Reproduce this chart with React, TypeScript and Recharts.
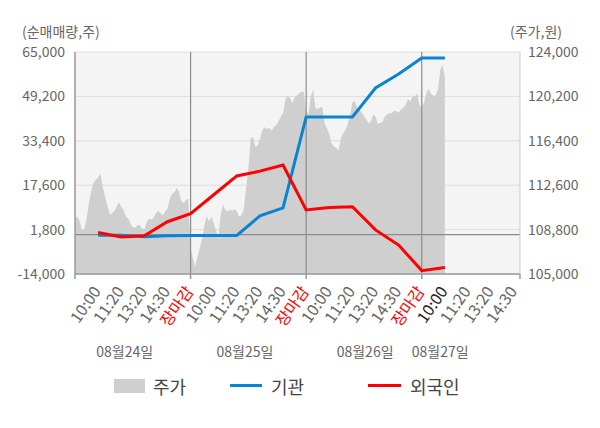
import React from 'react'
import {
	Area,
	CartesianGrid,
	ComposedChart,
	Line,
	ReferenceLine,
	XAxis,
	YAxis
} from 'recharts'

// 일자 / 시간 라벨
const days = ['08월24일', '08월25일', '08월26일', '08월27일']
const timeLabels = ['10:00', '11:20', '13:20', '14:30', '장마감']

// 주가 (원), 일자별
const priceDay1 = [
	109750, 109900, 109550, 108750, 108850, 109750, 111050, 112050, 112800, 113050,
	113250, 113600, 112450, 111650, 110850, 110100, 110200, 110400, 110750, 111150,
	110750, 110500, 109950, 109750, 109300, 109000, 108950, 109150, 109200, 108900,
	108800, 109400, 109750, 109650, 109800, 110200, 110400, 110200, 110000, 110350,
	110600, 111400, 111850, 112000, 112350, 112050, 111250, 111050, 111350, 111450
]
const priceDay2 = [
	107200, 106350, 105600, 106550, 107200, 108050, 109200, 109950, 109500, 109900,
	109350, 108750, 108050, 110050, 110950, 110500, 110350, 110550, 110400, 110550,
	110400, 109900, 110050, 110500, 112350, 114050, 116600, 116750, 115900, 116000,
	116600, 117300, 117550, 117400, 117500, 117250, 117550, 117750, 118050, 118450,
	118750, 119900, 120250, 120050, 119600, 120100, 120300, 120450, 120600, 120550
]
const priceDay3 = [
	118900, 118700, 120200, 120800, 119200, 119100, 119250, 119300, 117900, 117450,
	117000, 116200, 115900, 115800, 115550, 116600, 117050, 117300, 117850, 118600,
	119700, 119800, 119300, 119100, 118800, 118500, 118200, 117900, 118050, 118650,
	118450, 117850, 117950, 118000, 118450, 118650, 118750, 118750, 118950, 118950,
	118800, 119050, 119250, 119450, 120000, 119750, 120200, 120200, 120450, 119450
]
const priceDay4 = [119300, 119650, 120500, 120850, 120400, 120250, 120300, 120750, 122450, 122900, 121850]

// 누적 순매매량 (주), 시간 라벨마다
const institution = [-200, -250, -700, -400, -300, -300, -300, 6700, 9500, 41900, 41900, 41900, 52200, 57200, 62900, 62900]
const foreign = [800, -800, -400, 4600, 7500, 14200, 20900, 22600, 24800, 8800, 9700, 9950, 1700, -3700, -12800, -11700]

const volTicks = [-14000, 1800, 17600, 33400, 49200, 65000]
const priceTicks = [105000, 108800, 112600, 116400, 120200, 124000]

const POINTS_PER_DAY = 50
const X_MAX = 3.85
const dateTickX = [0.43, 1.47, 2.51, 3.16]

const priceData = [priceDay1, priceDay2, priceDay3, priceDay4].flatMap((arr, d) =>
	arr.map((price, i) => ({ x: d + i / POINTS_PER_DAY, price }))
)

const flowData = institution.map((inst, i) => ({
	x: (i + 1) / timeLabels.length,
	inst,
	frgn: foreign[i]
}))

const timeTicks: number[] = [0]
days.forEach((_, d) => {
	timeLabels.forEach((_, s) => {
		const v = d + (s + 1) / timeLabels.length
		if (v < X_MAX) timeTicks.push(v)
	})
})
timeTicks.push(X_MAX)

const currentX = flowData[flowData.length - 1].x
const FONT = '"Noto Sans CJK KR", "Noto Sans", sans-serif'
const fmt = (v: number) => v.toLocaleString('en-US')

function TimeTick(props: any) {
	const { x, y, payload } = props
	const v = payload.value as number
	const isBoundary = Math.abs(v - Math.round(v)) < 1e-6 || v === X_MAX
	const slot = Math.round(v * timeLabels.length) - 1
	const hasLabel = v > 0 && v < X_MAX
	const label = hasLabel ? timeLabels[((slot % 5) + 5) % 5] : ''
	let color = '#666'
	if (label === '장마감') color = '#ff0000'
	else if (Math.abs(v - currentX) < 1e-6) color = '#222'
	return (
		<g>
			{isBoundary && (
				<line x1={x} x2={x} y1={y - 8} y2={y - 3} stroke="#999" strokeWidth={1.5} />
			)}
			{hasLabel && (
				<text
					x={0}
					y={0}
					textAnchor="end"
					fill={color}
					fontSize={16}
					fontFamily={FONT}
					transform={`translate(${x + 3.5},${y + 9.5}) rotate(-55)`}
				>
					{label}
				</text>
			)}
		</g>
	)
}

function DateTick(props: any) {
	const { x, index } = props
	return (
		<text x={x} y={357} textAnchor="middle" fill="#666" fontSize={14} fontFamily={FONT}>
			{days[index]}
		</text>
	)
}

export default function App() {
	return (
		<div
			style={{
				position: 'fixed',
				left: 0,
				top: 0,
				width: 600,
				height: 428,
				background: '#fff',
				fontFamily: FONT
			}}
		>
			<div style={{ position: 'absolute', left: 22, top: 24, fontSize: 14, lineHeight: '14px', color: '#666' }}>
				(순매매량,주)
			</div>
			<div style={{ position: 'absolute', left: 510, top: 24, fontSize: 14, lineHeight: '14px', color: '#666' }}>
				(주가,원)
			</div>

			<ComposedChart
				width={600}
				height={428}
				margin={{ top: 52, right: 0, bottom: 0, left: 0 }}
			>
				<CartesianGrid
					yAxisId="vol"
					vertical={false}
					fill="#f4f4f4"
					stroke="#dddddd"
				/>
				<XAxis
					type="number"
					dataKey="x"
					domain={[0, X_MAX]}
					ticks={timeTicks}
					interval={0}
					allowDataOverflow
					height={70}
					axisLine={{ stroke: '#999', strokeWidth: 1.5 }}
					tickLine={false}
					tick={<TimeTick />}
				/>
				<XAxis
					xAxisId="date"
					type="number"
					dataKey="x"
					domain={[0, X_MAX]}
					ticks={dateTickX}
					interval={0}
					allowDataOverflow
					height={84}
					axisLine={false}
					tickLine={false}
					tick={<DateTick />}
				/>
				<YAxis
					yAxisId="vol"
					domain={[-14000, 65000]}
					ticks={volTicks}
					interval={0}
					width={75}
					axisLine={{ stroke: '#999', strokeWidth: 1.5 }}
					tickLine={false}
					tickMargin={4}
					tickFormatter={fmt}
					tick={{ fill: '#666', fontSize: 14, fontFamily: FONT }}
				/>
				<YAxis
					yAxisId="price"
					orientation="right"
					domain={[105000, 124000]}
					ticks={priceTicks}
					interval={0}
					width={80}
					axisLine={{ stroke: '#ccc' }}
					tickLine={false}
					tickFormatter={fmt}
					tick={{ fill: '#666', fontSize: 14, fontFamily: FONT }}
				/>

				<Area
					yAxisId="price"
					data={priceData}
					dataKey="price"
					type="linear"
					fill="#cfcfcf"
					fillOpacity={1}
					stroke="none"
					isAnimationActive={false}
				/>

				{[1, 2, 3].map(d => (
					<ReferenceLine key={d} yAxisId="vol" x={d} stroke="#8c8c8c" strokeWidth={1.2} />
				))}
				<ReferenceLine yAxisId="vol" y={0} stroke="#8c8c8c" strokeWidth={1.2} />

				{/* 날짜 축이 그려지도록 보이지 않는 계열을 붙여 둔다 */}
				<Line
					xAxisId="date"
					yAxisId="vol"
					data={flowData}
					dataKey="inst"
					stroke="none"
					dot={false}
					activeDot={false}
					legendType="none"
					isAnimationActive={false}
				/>

				<Line
					yAxisId="vol"
					data={flowData}
					dataKey="inst"
					type="linear"
					stroke="#0a84d2"
					strokeWidth={3}
					dot={false}
					isAnimationActive={false}
				/>
				<Line
					yAxisId="vol"
					data={flowData}
					dataKey="frgn"
					type="linear"
					stroke="#ff0000"
					strokeWidth={3}
					dot={false}
					isAnimationActive={false}
				/>
			</ComposedChart>

			{/* 범례 */}
			<div style={{ position: 'absolute', left: 114, top: 379, width: 31, height: 14, background: '#cfcfcf' }} />
			<div style={{ position: 'absolute', left: 153, top: 373, fontSize: 18, color: '#444' }}>주가</div>
			<div style={{ position: 'absolute', left: 230, top: 384, width: 32, height: 3, background: '#0a84d2' }} />
			<div style={{ position: 'absolute', left: 271, top: 373, fontSize: 18, color: '#444' }}>기관</div>
			<div style={{ position: 'absolute', left: 368, top: 384, width: 33, height: 3, background: '#ff0000' }} />
			<div style={{ position: 'absolute', left: 410, top: 373, fontSize: 18, color: '#444' }}>외국인</div>
		</div>
	)
}
